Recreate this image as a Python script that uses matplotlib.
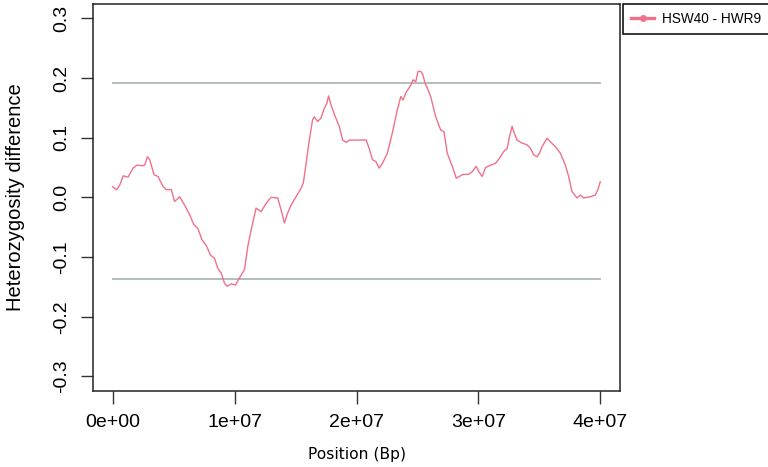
import matplotlib
matplotlib.use("Agg")
import matplotlib.pyplot as plt
import numpy as np

# Позиція (Mb) та різниця гетерозиготності
pos_mb = [0.0, 0.33, 0.60, 0.87, 1.28, 1.68, 2.01, 2.42, 2.64, 2.86, 3.05, 3.40, 3.73,
          4.14, 4.42, 4.82, 5.09, 5.50, 5.91, 6.32, 6.67, 7.00, 7.33, 7.69, 8.04, 8.36,
          8.63, 8.91, 9.18, 9.40, 9.73, 10.08, 10.41, 10.82, 11.09, 11.37, 11.77, 12.18,
          12.59, 13.00, 13.54, 13.82, 14.09, 14.36, 14.64, 15.04, 15.45, 15.64, 15.91,
          16.13, 16.40, 16.54, 16.81, 17.09, 17.36, 17.58, 17.71, 17.91, 18.26, 18.59,
          18.86, 19.18, 19.40, 20.79, 21.04, 21.31, 21.59, 21.86, 22.13, 22.53, 22.94,
          23.35, 23.63, 23.82, 24.04, 24.45, 24.64, 24.86, 25.04, 25.27, 25.45, 25.62,
          25.81, 26.08, 26.49, 26.90, 27.17, 27.44, 27.85, 28.18, 28.67, 29.22, 29.49,
          29.81, 30.03, 30.30, 30.58, 30.99, 31.40, 31.73, 32.08, 32.35, 32.54, 32.76,
          32.89, 33.16, 33.57, 33.98, 34.26, 34.53, 34.80, 35.00, 35.21, 35.62, 35.90,
          36.30, 36.71, 37.12, 37.39, 37.66, 38.07, 38.35, 38.62, 39.17, 39.58, 39.79,
          39.98]
het_diff = [0.018, 0.0126, 0.021, 0.036, 0.034, 0.049, 0.054, 0.053, 0.054, 0.068, 0.063,
            0.038, 0.035, 0.018, 0.013, 0.013, -0.007, 0.001, -0.013, -0.029, -0.046,
            -0.052, -0.071, -0.081, -0.097, -0.102, -0.119, -0.127, -0.144, -0.149,
            -0.145, -0.147, -0.135, -0.121, -0.082, -0.054, -0.018, -0.024, -0.010,
            0.000, -0.001, -0.021, -0.043, -0.026, -0.013, 0.001, 0.015, 0.024, 0.063,
            0.096, 0.130, 0.135, 0.127, 0.133, 0.149, 0.158, 0.170, 0.155, 0.135, 0.119,
            0.096, 0.092, 0.096, 0.096, 0.082, 0.063, 0.060, 0.049, 0.057, 0.074, 0.108,
            0.147, 0.169, 0.163, 0.175, 0.188, 0.197, 0.194, 0.211, 0.211, 0.205, 0.191,
            0.183, 0.169, 0.135, 0.113, 0.110, 0.074, 0.052, 0.032, 0.038, 0.039, 0.043,
            0.052, 0.043, 0.035, 0.050, 0.054, 0.057, 0.066, 0.077, 0.082, 0.102, 0.119,
            0.110, 0.096, 0.091, 0.088, 0.082, 0.071, 0.068, 0.074, 0.085, 0.099, 0.093,
            0.085, 0.074, 0.054, 0.035, 0.010, -0.001, 0.004, -0.001, 0.001, 0.004,
            0.013, 0.026]
thresholds = [0.192, -0.137]
x_ticks = [0, 1e7, 2e7, 3e7, 4e7]
x_labels = ["0e+00", "1e+07", "2e+07", "3e+07", "4e+07"]
y_ticks = [-0.3, -0.2, -0.1, 0.0, 0.1, 0.2, 0.3]
y_labels = ["-0.3", "-0.2", "-0.1", "0.0", "0.1", "0.2", "0.3"]
series_name = "HSW40 - HWR9"

line_color = "#F0718A"
thr_color = "#AEB8B8"

x = np.array(pos_mb) * 1e6
y = np.array(het_diff)

fig = plt.figure(figsize=(7.68, 4.67), dpi=100)
ax = fig.add_axes([93 / 768, 1 - 390.7 / 467, (620 - 93) / 768, (390.7 - 4) / 467])

# Порогові лінії
for t in thresholds:
    ax.plot([x_ticks[0], x_ticks[-1]], [t, t], color=thr_color, linewidth=1.3)
ax.plot(x, y, color=line_color, linewidth=1.0)

ax.set_xlim(-1.6e6, 4.16e7)
ax.set_ylim(-0.324, 0.324)

ax.set_xticks(x_ticks)
ax.set_xticklabels(x_labels, fontfamily="Liberation Sans", fontsize=14)
ax.set_yticks(y_ticks)
ax.set_yticklabels(y_labels, fontfamily="Liberation Sans", fontsize=14,
                   rotation=90, va="center")
ax.tick_params(axis="x", length=9, width=1, pad=8, color="#333333")
ax.tick_params(axis="y", length=8.5, width=1, pad=8, color="#333333")
for s in ax.spines.values():
    s.set_linewidth(1.1)
    s.set_color("#222222")

ax.set_ylabel("Heterozygosity difference", fontfamily="Liberation Sans",
              fontsize=14.5, labelpad=20)
ax.set_xlabel("Position (Bp)", fontfamily="DejaVu Sans", fontsize=11.2, labelpad=11)

# Легенда поза областю графіка
handle, = ax.plot([], [], color=line_color, linewidth=2.4, marker="o", markersize=4)
leg = fig.legend([handle], [series_name], loc="upper left",
                 bbox_to_anchor=(623 / 768, 1 - 4 / 467), borderaxespad=0,
                 fancybox=False, edgecolor="black", framealpha=1,
                 prop={"family": "Liberation Sans", "size": 9.8},
                 handlelength=1.7, borderpad=0.6, handletextpad=0.6)
leg.get_frame().set_linewidth(1.1)

fig.savefig("out.png", dpi=100)
